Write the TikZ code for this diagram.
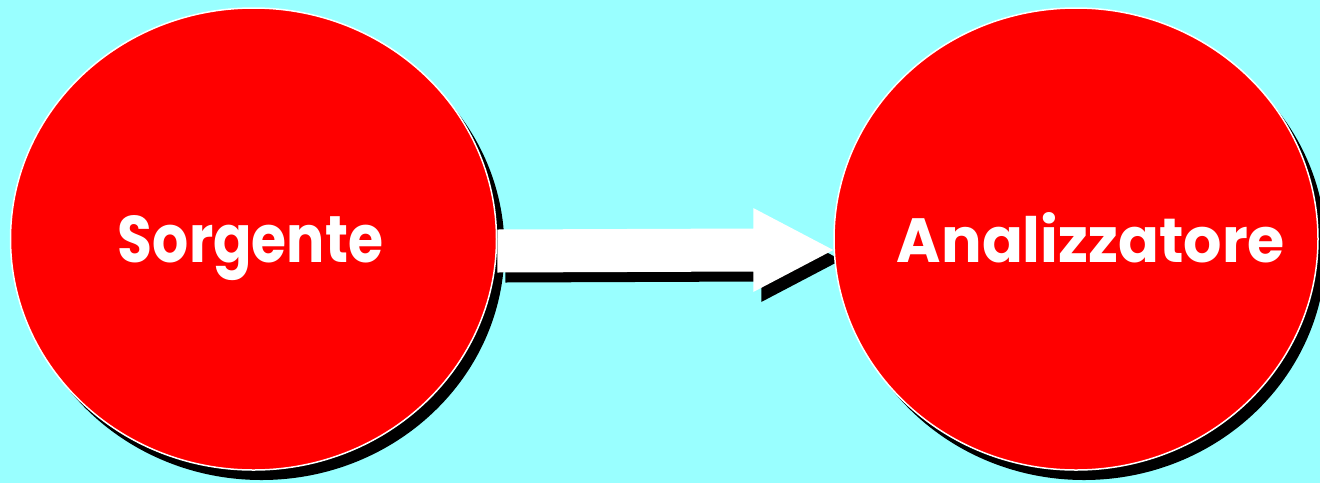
\documentclass[tikz,border=0pt]{standalone}
\usepackage{fontspec}
\setmainfont{Poppins}
\usetikzlibrary{shapes.geometric,shadows,calc}
\definecolor{bgcyan}{HTML}{99FFFF}
\definecolor{discred}{HTML}{FF0000}
\pgfdeclarelayer{front}
\pgfsetlayers{main,front}
\begin{document}
\begin{tikzpicture}[x=1pt,y=-1pt,
  disc/.style={ellipse, fill=discred, draw=white, line width=1.5pt, inner sep=0pt,
    minimum width=#1, minimum height=462pt,
    general shadow={fill=black, shadow xshift=8pt, shadow yshift=-10pt}},
  lbl/.style={text=white, font=\bfseries, anchor=base, inner sep=0pt},
  bigarrow/.style={fill=white,
    general shadow={fill=black, shadow xshift=8pt, shadow yshift=-10pt}}]
\useasboundingbox[fill=bgcyan] (0,0) rectangle (1320,483);
\node[disc=486pt] (src) at (253.5,239) {};
\begin{pgfonlayer}{front}
\node[disc=484pt] (ana) at (1076,239) {};
\node[lbl] (anat) at (1091,262) {\resizebox{388pt}{50pt}{Analizzatore}};
\end{pgfonlayer}
\node[lbl] (srct) at (250.5,262) {\resizebox{265pt}{47pt}{Sorgente}};
\coordinate (s) at ($(src.east)+(0,12)$);
\coordinate (t) at ($(ana.west)+(0,11)$);
\path[bigarrow] ($(s)+(0,-21.5)$) -- ($(t)+(-80,-21.5)$) -- ($(t)+(-80,-42)$) -- (t)
  -- ($(t)+(-80,42)$) -- ($(t)+(-80,21.5)$) -- ($(s)+(0,21.5)$) -- cycle;
\end{tikzpicture}
\end{document}
